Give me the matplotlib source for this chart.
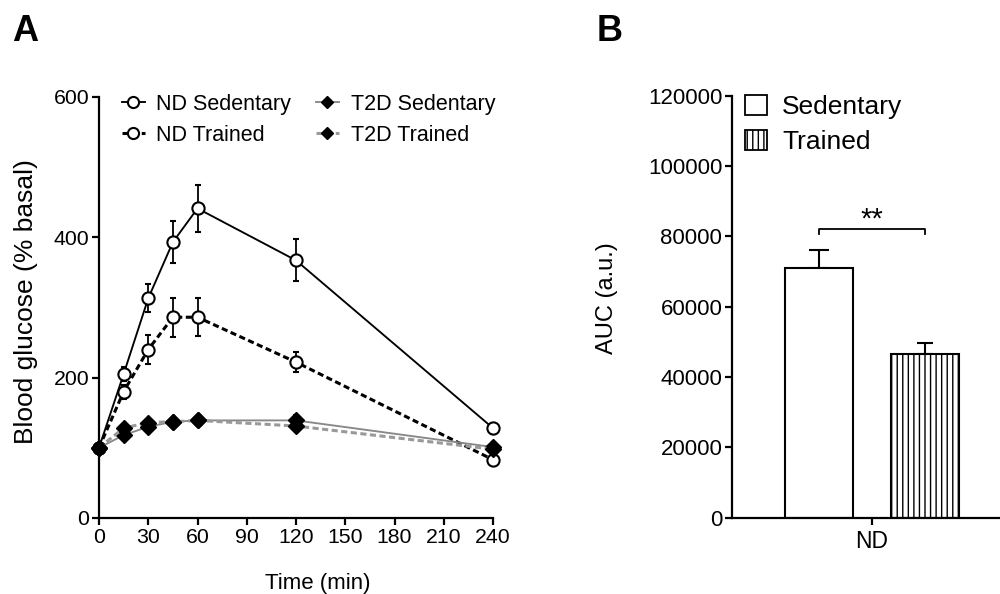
import matplotlib
matplotlib.use("Agg")
import matplotlib.pyplot as plt
from matplotlib.lines import Line2D
from matplotlib.patches import Patch

plt.rcParams['font.family'] = ['Liberation Sans', 'DejaVu Sans']
plt.rcParams['hatch.linewidth'] = 1.0

# ---- Panel A: glucose tolerance curves ----
time_min = [0, 15, 30, 45, 60, 120, 240]
nd_sed = [100, 205, 313, 393, 441, 367, 128]
nd_sed_err = [0, 10, 20, 30, 34, 30, 8]
nd_tr = [100, 180, 240, 286, 286, 222, 83]
nd_tr_err = [0, 10, 20, 28, 27, 14, 4]
t2d_sed = [100, 118, 130, 137, 139, 139, 101]
t2d_sed_err = [0, 4, 5, 5, 6, 8, 5]
t2d_tr = [100, 128, 136, 137, 139, 131, 98]
t2d_tr_err = [0, 4, 5, 5, 5, 6, 5]
x_ticks = [0, 30, 60, 90, 120, 150, 180, 210, 240]
y_ticks_a = [0, 200, 400, 600]

# ---- Panel B: area under the curve ----
groups = ['ND']
auc_sed = [71000]
auc_sed_err = [5000]
auc_tr = [46500]
auc_tr_err = [3100]
y_ticks_b = [0, 20000, 40000, 60000, 80000, 100000, 120000]

GRAY = '#888888'
GRAY_D = '#999999'
LW = 1.35
LWD = 2.2
dash = (0, (2.0, 1.15))

fig = plt.figure(figsize=(10, 5.94), dpi=100)

axA = fig.add_axes([0.099, 0.128, 0.394, 0.709])
axB = fig.add_axes([0.732, 0.1285, 0.30, 0.7104])

common = dict(capsize=2.0, elinewidth=1.3, capthick=1.3, clip_on=False)

axA.errorbar(time_min, t2d_sed, yerr=t2d_sed_err, color=GRAY, lw=LW, marker='D',
             ms=7.8, mfc='black', mec='black', ecolor='black', zorder=4, **common)
axA.errorbar(time_min, t2d_tr, yerr=t2d_tr_err, color=GRAY_D, lw=LWD, ls=dash, marker='D',
             ms=7.8, mfc='black', mec='black', ecolor='black', zorder=4, **common)
axA.errorbar(time_min, nd_sed, yerr=nd_sed_err, color='black', lw=LW, marker='o',
             ms=8.8, mfc='white', mec='black', mew=1.5, ecolor='black', zorder=3, **common)
axA.errorbar(time_min, nd_tr, yerr=nd_tr_err, color='black', lw=LWD, ls=dash, marker='o',
             ms=8.8, mfc='white', mec='black', mew=1.5, ecolor='black', zorder=3, **common)

axA.set_xlim(0, 240)
axA.set_ylim(0, 600)
axA.set_xticks(x_ticks)
axA.set_yticks(y_ticks_a)
for s in ['top', 'right']:
    axA.spines[s].set_visible(False)
for s in ['left', 'bottom']:
    axA.spines[s].set_linewidth(1.6)
axA.tick_params(width=1.6, length=5, labelsize=15.3, pad=2)

handles_a = [
    Line2D([], [], color='black', lw=LW, marker='o', ms=8, mfc='white', mec='black', mew=1.5),
    Line2D([], [], color='black', lw=LWD, ls=dash, marker='o', ms=8, mfc='white', mec='black', mew=1.5),
    Line2D([], [], color=GRAY, lw=LW, marker='D', ms=6.5, mfc='black', mec='black'),
    Line2D([], [], color=GRAY_D, lw=LWD, ls=dash, marker='D', ms=6.5, mfc='black', mec='black'),
]
labels_a = ['ND Sedentary', 'ND Trained', 'T2D Sedentary', 'T2D Trained']
axA.legend(handles_a, labels_a, ncol=2, frameon=False, fontsize=15.5,
           loc='upper left', bbox_to_anchor=(0.122, 0.842), bbox_transform=fig.transFigure,
           borderpad=0, handlelength=1.05, handletextpad=0.55, columnspacing=1.15,
           labelspacing=0.45, borderaxespad=0)

fig.text(0.026, 1 - 301.5 / 594, 'Blood glucose (% basal)', rotation=90,
         ha='center', va='center', fontsize=19)
fig.text(0.318, 1 - 583 / 594, 'Time (min)', ha='center', va='center', fontsize=16)

# ---- Panel B drawing ----
off = 0.31
bw = 0.4
xpos = list(range(len(groups)))
axB.bar([p - off for p in xpos], auc_sed, width=bw, color='white', edgecolor='black',
        lw=1.5, zorder=2)
axB.bar([p + off for p in xpos], auc_tr, width=bw, color='white', edgecolor='black',
        lw=1.5, hatch='|||', zorder=2)
axB.errorbar([p - off for p in xpos], auc_sed, yerr=[[0] * len(auc_sed), auc_sed_err],
             fmt='none', ecolor='black', elinewidth=1.5, capsize=7, capthick=1.5, zorder=1)
axB.errorbar([p + off for p in xpos], auc_tr, yerr=[[0] * len(auc_tr), auc_tr_err],
             fmt='none', ecolor='black', elinewidth=1.5, capsize=6, capthick=1.5, zorder=1)

# significance bracket
br_y, br_tick = 82000, 1400
for p in xpos:
    axB.plot([p - off, p - off, p + off, p + off],
             [br_y - br_tick, br_y, br_y, br_y - br_tick], color='black', lw=1.3)
    axB.text(p, br_y - 1200, '**', ha='center', va='bottom', fontsize=21)

axB.set_xlim(-0.824, -0.824 + 300 / 170)
axB.set_ylim(0, 120000)
axB.set_yticks(y_ticks_b)
axB.set_xticks(xpos)
axB.set_xticklabels(groups)
for s in ['top', 'right']:
    axB.spines[s].set_visible(False)
for s in ['left', 'bottom']:
    axB.spines[s].set_linewidth(1.6)
axB.tick_params(width=1.6, length=5, labelsize=16, pad=2)
axB.tick_params(axis='x', labelsize=16.5, pad=4)

handles_b = [Patch(facecolor='white', edgecolor='black', lw=1.3),
             Patch(facecolor='white', edgecolor='black', lw=1.3, hatch='|||')]
axB.legend(handles_b, ['Sedentary', 'Trained'], frameon=False, fontsize=19,
           loc='upper left', bbox_to_anchor=(0.745, 0.840), bbox_transform=fig.transFigure,
           borderpad=0, handlelength=0.85, handleheight=0.8, handletextpad=0.55,
           labelspacing=0.4, borderaxespad=0)

fig.text(0.607, 1 - 298 / 594, 'AUC (a.u.)', rotation=90, ha='center', va='center',
         fontsize=17)

fig.text(0.025, 1 - 31.5 / 594, 'A', ha='center', va='center', fontsize=26, fontweight='bold')
fig.text(0.610, 1 - 31.5 / 594, 'B', ha='center', va='center', fontsize=26, fontweight='bold')

fig.savefig('out.png', dpi=100)
